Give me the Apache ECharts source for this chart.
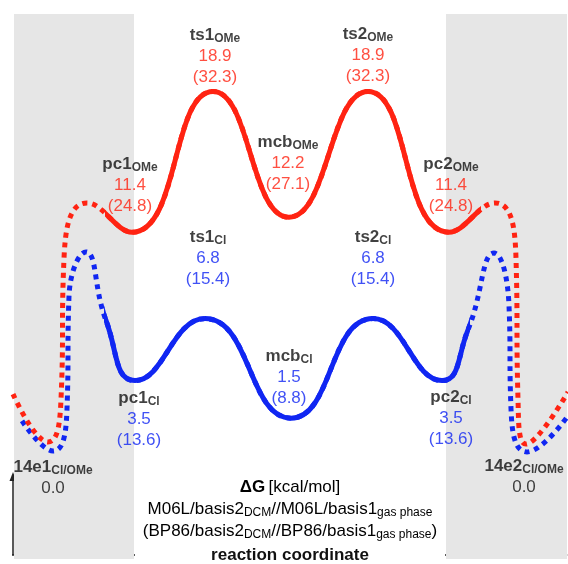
<!DOCTYPE html>
<html>
<head>
<meta charset="utf-8">
<script src="https://cdn.jsdelivr.net/npm/echarts@6/dist/echarts.min.js"></script>
<style>
html, body { margin: 0; padding: 0; background: #fff; }
#chart { width: 568px; height: 564px; }
</style>
</head>
<body>
<div id="chart"></div>
<script>
// reaction coordinate (arbitrary units) vs. dG in kcal/mol, read at the turning points
var redCurve = [[13,2.78],[48,0.23],[61,2.5],[64,10.0],[87,12.96],[132,11.4],[213,18.9],[289,12.2],[368,18.9],[449,11.4],[495,12.96],[516,10.0],[518,2.5],[526,0.12],[568,2.89]];
var blueCurve = [[22,1.35],[53,-0.25],[67,2.0],[69,8.0],[86,10.35],[106,6.7],[135,3.5],[205,6.8],[291,1.5],[373,6.8],[442,3.5],[468,6.2],[494,10.29],[509,7.5],[511,2.0],[527,-0.3],[567,1.55]];

// solid part of each curve (the rest is dotted)
var redSolidRange = [108, 478];
var blueSolidRange = [107, 467];

var omeNames = ['pc1', 'ts1', 'mcb', 'ts2', 'pc2'];
var omeEnergies = ['11.4', '18.9', '12.2', '18.9', '11.4'];
var omeParen = ['(24.8)', '(32.3)', '(27.1)', '(32.3)', '(24.8)'];
var clNames = ['pc1', 'ts1', 'mcb', 'ts2', 'pc2'];
var clEnergies = ['3.5', '6.8', '1.5', '6.8', '3.5'];
var clParen = ['(13.6)', '(15.4)', '(8.8)', '(15.4)', '(13.6)'];
var endNames = ['14e1', '14e2'];
var endEnergies = ['0.0', '0.0'];

// label anchors, in axis units
var omeLabelAt = [[130,13.91],[215,20.78],[288,15.09],[368,20.84],[451,13.91]];
var clLabelAt = [[139,1.45],[208,10.03],[289,3.69],[373,10.03],[451,1.50]];
var endLabelAt = [[53,-1.66],[524,-1.61]];

var RED = '#ff2312';
var BLUE = '#1026f2';
var FONT = '"Liberation Sans", Arial, Helvetica, sans-serif';
var XMAX = 568;
var YMIN = -6, YMAX = 23.5;

var chart = echarts.init(document.getElementById('chart'));

function curve(data, color, dotted, axisIndex)
{
	return {
		type: 'line',
		data: data,
		xAxisIndex: axisIndex,
		yAxisIndex: axisIndex,
		smooth: 0.5,
		clip: true,
		symbol: 'none',
		silent: true,
		z: dotted ? 3 : 4,
		lineStyle: { color: color, width: 5, type: dotted ? 'dotted' : 'solid', cap: 'butt' }
	};
}

var rich = {
	n: { fontFamily: FONT, fontSize: 17, fontWeight: 'bold', color: '#111', lineHeight: 21 },
	s: { fontFamily: FONT, fontSize: 12, fontWeight: 'bold', color: '#111', lineHeight: 12, padding: [8, 0, 0, 0] },
	r: { fontFamily: FONT, fontSize: 17, color: RED, lineHeight: 21 },
	b: { fontFamily: FONT, fontSize: 17, color: BLUE, lineHeight: 21 },
	k: { fontFamily: FONT, fontSize: 17, color: '#111', lineHeight: 21 }
};

var labelData = [];
omeNames.forEach(function(n, i) {
	labelData.push({ value: omeLabelAt[i], text: '{n|' + n + '}{s|OMe}\n{r|' + omeEnergies[i] + '}\n{r|' + omeParen[i] + '}' });
});
clNames.forEach(function(n, i) {
	labelData.push({ value: clLabelAt[i], text: '{n|' + n + '}{s|Cl}\n{b|' + clEnergies[i] + '}\n{b|' + clParen[i] + '}' });
});
endNames.forEach(function(n, i) {
	labelData.push({ value: endLabelAt[i], text: '{n|' + n + '}{s|Cl/OMe}\n{k|' + endEnergies[i] + '}' });
});

var axisColor = '#222';

// the solid parts sit in narrower grids with the same scale, so the grid clips them
function gridFor(range)
{
	return { left: range[0], right: XMAX - range[1], top: 5, bottom: 5 };
}

var option = {
	animation: false,
	grid: [
		{ left: 0, right: 0, top: 5, bottom: 5 },
		gridFor(redSolidRange),
		gridFor(blueSolidRange)
	],
	xAxis: [
		{ type: 'value', min: 0, max: XMAX, show: false, gridIndex: 0 },
		{ type: 'value', min: redSolidRange[0], max: redSolidRange[1], show: false, gridIndex: 1 },
		{ type: 'value', min: blueSolidRange[0], max: blueSolidRange[1], show: false, gridIndex: 2 }
	],
	yAxis: [
		{ type: 'value', min: YMIN, max: YMAX, show: false, gridIndex: 0 },
		{ type: 'value', min: YMIN, max: YMAX, show: false, gridIndex: 1 },
		{ type: 'value', min: YMIN, max: YMAX, show: false, gridIndex: 2 }
	],
	series: [
		{
			type: 'line',
			data: [],
			z: 1,
			silent: true,
			markArea: {
				silent: true,
				itemStyle: { color: '#e6e6e6' },
				data: [
					[{ coord: [14, 23.02] }, { coord: [134, YMIN] }],
					[{ coord: [446, 23.02] }, { coord: [567, YMIN] }]
				]
			}
		},
		curve(blueCurve, BLUE, true, 0),
		curve(redCurve, RED, true, 0),
		curve(redCurve, RED, false, 1),
		curve(blueCurve, BLUE, false, 2),
		{
			type: 'scatter',
			symbolSize: 0,
			silent: true,
			z: 5,
			data: labelData,
			label: {
				show: true,
				position: 'inside',
				align: 'center',
				verticalAlign: 'middle',
				lineHeight: 21,
				formatter: function(p) { return p.data.text; },
				rich: rich
			}
		}
	],
	graphic: [
		{
			type: 'text',
			x: 290,
			y: 476,
			silent: true,
			style: {
				text: '{tb|ΔG} {t|[kcal/mol]}\n{t|M06L/basis2}{u|DCM}{t|//M06L/basis1}{u|gas phase}\n{t|(BP86/basis2}{u|DCM}{t|//BP86/basis1}{u|gas phase}{t|)}',
				align: 'center',
				verticalAlign: 'top',
				lineHeight: 22,
				rich: {
					t: { fontFamily: FONT, fontSize: 17, color: '#111', lineHeight: 22 },
					tb: { fontFamily: FONT, fontSize: 17, fontWeight: 'bold', color: '#111', lineHeight: 22 },
					u: { fontFamily: FONT, fontSize: 12, color: '#111', lineHeight: 12, padding: [8, 0, 0, 0] }
				}
			}
		},
		{
			type: 'text',
			x: 290,
			y: 555,
			silent: true,
			style: {
				text: 'reaction coordinate',
				align: 'center',
				verticalAlign: 'middle',
				fontFamily: FONT,
				fontSize: 17,
				fontWeight: 'bold',
				fill: '#111'
			}
		},
		{ type: 'line', silent: true, shape: { x1: 13, y1: 555, x2: 13, y2: 480 }, style: { stroke: axisColor, lineWidth: 1.5 } },
		{ type: 'polygon', silent: true, shape: { points: [[13, 472], [9.5, 481], [16.5, 481]] }, style: { fill: axisColor } },
		{ type: 'line', silent: true, shape: { x1: 12, y1: 555, x2: 135, y2: 555 }, style: { stroke: axisColor, lineWidth: 1.5 } },
		{ type: 'line', silent: true, shape: { x1: 445, y1: 555, x2: 560, y2: 555 }, style: { stroke: axisColor, lineWidth: 1.5 } },
		{ type: 'polygon', silent: true, shape: { points: [[568, 555], [559, 551.5], [559, 558.5]] }, style: { fill: axisColor } }
	]
};

chart.setOption(option);
</script>
</body>
</html>
